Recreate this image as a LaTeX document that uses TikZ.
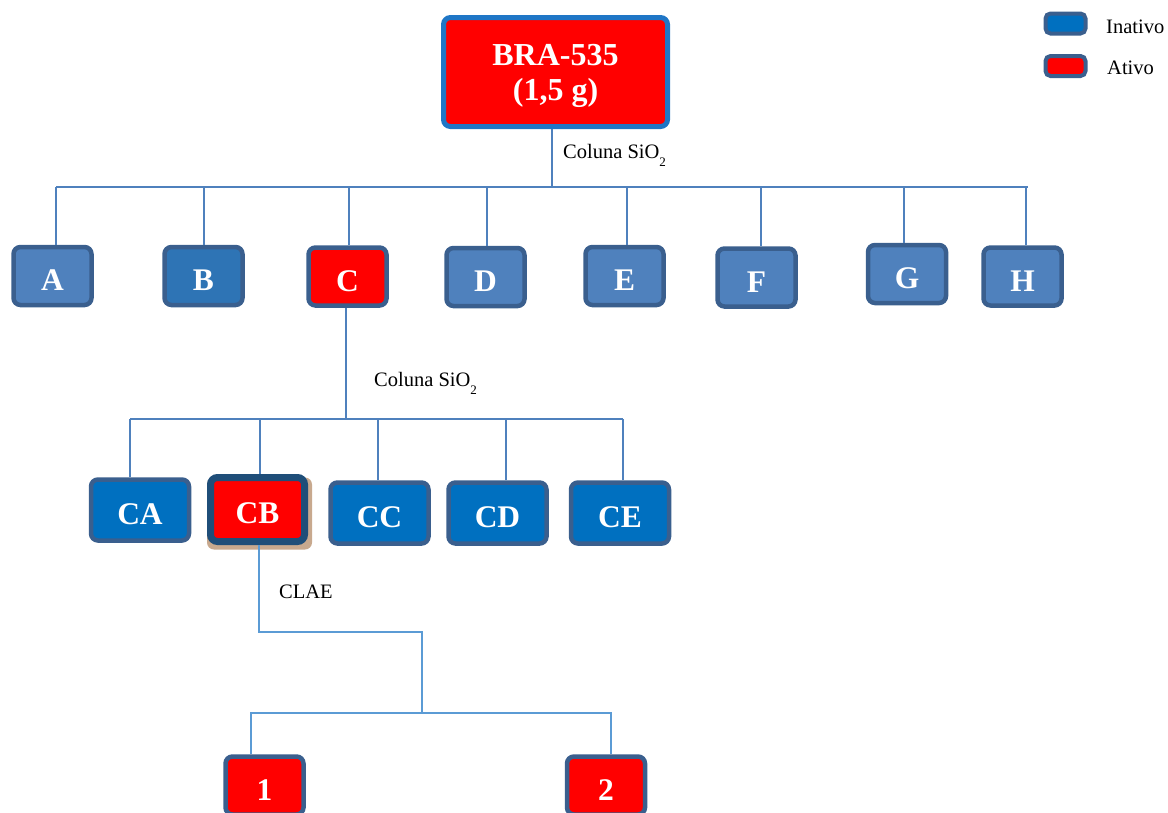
\documentclass[tikz,border=0pt]{standalone}
\usepackage{fontspec}
\setmainfont{Liberation Serif}
\definecolor{redf}{HTML}{FF0000}
\definecolor{topbord}{HTML}{1F76C6}
\definecolor{bordc}{HTML}{3A5F8E}
\definecolor{lightb}{HTML}{4F81BD}
\definecolor{midb}{HTML}{2E74B5}
\definecolor{deepb}{HTML}{0070C0}
\definecolor{cbbord}{HTML}{1F4E79}
\definecolor{shadowtan}{HTML}{C8A98E}
\definecolor{linec}{HTML}{4F81BD}
\definecolor{linec2}{HTML}{5B9BD5}
\newcommand\mysubtwo{\raisebox{-8pt}{\fontsize{13}{13}\selectfont 2}}
\tikzset{
  box/.style={rounded corners=7pt, line width=4.5pt, draw=bordc, text=white,
    font=\bfseries\fontsize{31.5}{33}\selectfont, inner sep=0pt,
    text height=29pt, text depth=0pt,
    minimum width=78pt, minimum height=58pt},
  box2/.style={box, fill=deepb, text height=28pt, minimum width=98pt, minimum height=61pt},
  topbox/.style={box, draw=topbord, fill=redf, line width=5pt,
    text height=0pt, text depth=0pt,
    minimum width=224pt, minimum height=109pt,
    font=\bfseries\fontsize{32}{35}\selectfont},
  legbox/.style={rounded corners=5pt, line width=4pt, draw=bordc,
    minimum width=40pt, minimum height=20pt, inner sep=0pt},
  conn/.style={draw=linec, line width=1.6pt},
  conn2/.style={draw=linec2, line width=1.6pt},
  lbl/.style={font=\fontsize{20.5}{22}\selectfont, inner sep=0pt, text=black}
}
\begin{document}
\begin{tikzpicture}[x=1pt,y=-1pt]
\useasboundingbox (0,0) rectangle (1168,812);
% top
\node[topbox] (top) at (555.5,72) {\raisebox{-28pt}[0pt][0pt]{\vbox{\hbox to 0pt{\hss BRA-535\hss}\hbox to 0pt{\hss (1,5 g)\hss}}}};
% row 1
\node[box, fill=lightb] (A) at (52.5,276) {A};
\node[box, fill=midb] (B) at (203.5,276) {B};
\node[box, fill=redf] (C) at (347.5,276.5) {C};
\node[box, fill=lightb] (D) at (485.5,277) {D};
\node[box, fill=lightb] (E) at (624.5,276) {E};
\node[box, fill=lightb] (F) at (756.5,277.5) {F};
\node[box, fill=lightb] (G) at (907,274) {G};
\node[box, fill=lightb] (H) at (1022.5,276.5) {H};
% row 2
\node[box2] (CA) at (140,510) {CA};
\fill[shadowtan, rounded corners=7pt] (207,477.5) rectangle (312,549.5);
\node[box2, fill=redf, draw=cbbord, line width=7pt, minimum width=94pt, minimum height=64pt] (CB) at (257.5,509.5) {CB};
\node[box2] (CC) at (379.5,513) {CC};
\node[box2] (CD) at (497.5,513) {CD};
\node[box2] (CE) at (620,513) {CE};
% row 3
\node[box, fill=redf] (n1) at (264.5,785.5) {1};
\node[box, fill=redf] (n2) at (606,785.5) {2};
% legend
\node[legbox, fill=deepb] (li) at (1065.5,23.5) {};
\node[legbox, fill=redf] (la) at (1065.5,66) {};
\node[lbl, anchor=base west] (lit) at (1106,33) {Inativo};
\node[lbl, anchor=base west] (lat) at (1107,74) {Ativo};
% labels
\node[lbl, anchor=base west] (t1) at (563,158) {Coluna SiO\mysubtwo};
\node[lbl, anchor=base west] (t2) at (374,386) {Coluna SiO\mysubtwo};
\node[lbl, anchor=base west] (t3) at (279,598) {CLAE};
% connectors level 1
\coordinate (bus1) at (0,187);
\draw[conn] ([xshift=-3.5pt]top.south) -- ([xshift=-3.5pt]top.south |- bus1);
\draw[conn] ([xshift=3.5pt]A.north |- bus1) -- ([xshift=5pt]H.north |- bus1);
\foreach \n/\d in {A/3.5,B/0.5,C/1.5,D/1.5,E/2.5,F/4.5,G/-3,H/3.5}
  \draw[conn] ([xshift=\d pt]\n.north) -- ([xshift=\d pt]\n.north |- bus1);
% connectors level 2
\coordinate (bus2) at (0,419);
\draw[conn] ([xshift=-1.5pt]C.south) -- ([xshift=-1.5pt]C.south |- bus2);
\draw[conn] ([xshift=-10pt]CA.north |- bus2) -- ([xshift=3pt]CE.north |- bus2);
\foreach \n/\d in {CA/-10,CB/2.5,CC/-1.5,CD/8.5,CE/3}
  \draw[conn] ([xshift=\d pt]\n.north) -- ([xshift=\d pt]\n.north |- bus2);
% connectors level 3
\coordinate (k1) at (422,632);
\coordinate (bus3) at (0,713);
\draw[conn2] ([xshift=1.5pt]CB.south) |- (k1) -- (k1 |- bus3);
\draw[conn2] ([xshift=-13.5pt]n1.north) |- ([xshift=5pt]n2.north |- bus3) -- ([xshift=5pt]n2.north);
\end{tikzpicture}
\end{document}
